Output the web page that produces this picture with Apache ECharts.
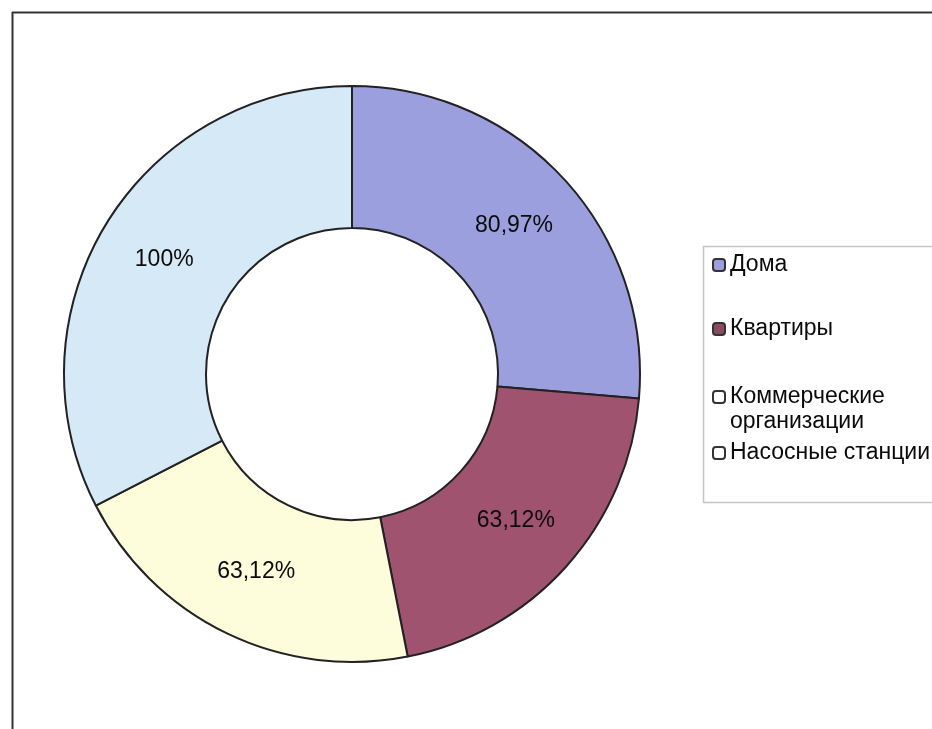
<!DOCTYPE html>
<html>
<head>
<meta charset="utf-8">
<script src="https://cdn.jsdelivr.net/npm/echarts@6/dist/echarts.min.js"></script>
<style>
  html, body { margin: 0; padding: 0; background: #ffffff; }
  #chart { width: 932px; height: 729px; }
</style>
</head>
<body>
<div id="chart"></div>
<script>
// Consumer groups and their shares
const categories = ['Дома', 'Квартиры', 'Коммерческие организации', 'Насосные станции'];
const values = [80.97, 63.12, 63.12, 100];
const colors = ['#9c9fdd', '#a0536f', '#fdfddc', '#d5e9f7'];
const legendIconColors = ['#9c9fdd', '#8a4a62', '#ffffff', '#ffffff'];
// Legend text (two-line label for the long name; leading blank line keeps the icon on the first line)
const legendText = ['Дома', 'Квартиры', '\nКоммерческие\nорганизации', 'Насосные станции'];
const legendCenters = [265, 329, 397, 453];

const LINE_H = 25;
const FONT = '"Liberation Sans", Arial, sans-serif';

const pieData = categories.map((name, i) => ({
  name: name,
  value: values[i],
  itemStyle: { color: colors[i] }
}));

const legends = categories.map((name, i) => {
  const lines = legendText[i].split('\n').length;
  return {
    data: [{ name: name, itemStyle: { color: legendIconColors[i], borderColor: '#333', borderWidth: 2 } }],
    left: 712,
    top: legendCenters[i] - (lines * LINE_H) / 2,
    padding: 0,
    icon: 'roundRect',
    itemWidth: 12,
    itemHeight: 12,
    selectedMode: false,
    formatter: () => legendText[i],
    textStyle: { fontFamily: FONT, fontSize: 23, color: '#0a0a0a', lineHeight: LINE_H }
  };
});

const chart = echarts.init(document.getElementById('chart'), null, { renderer: 'canvas' });
chart.setOption({
  animation: false,
  backgroundColor: '#ffffff',
  legend: legends,
  graphic: [
    // chart frame (top and left edges)
    { type: 'line', shape: { x1: 12, y1: 12.5, x2: 932, y2: 12.5 }, style: { stroke: '#333', lineWidth: 2 } },
    { type: 'line', shape: { x1: 12.5, y1: 12, x2: 12.5, y2: 729 }, style: { stroke: '#333', lineWidth: 2 } },
    // legend box
    { type: 'rect', shape: { x: 703.5, y: 246.5, width: 260, height: 256 }, style: { fill: 'none', stroke: '#c4c4c4', lineWidth: 1.5 }, z: -1 }
  ],
  series: [{
    type: 'pie',
    center: [352, 374],
    radius: [146, 288],
    startAngle: 90,
    clockwise: true,
    avoidLabelOverlap: false,
    silent: true,
    itemStyle: { borderColor: '#222', borderWidth: 2 },
    label: {
      show: true,
      position: 'inside',
      fontFamily: FONT,
      fontSize: 23,
      color: '#0a0a0a',
      formatter: p => String(p.value).replace('.', ',') + '%'
    },
    labelLine: { show: false },
    emphasis: { disabled: true },
    data: pieData
  }]
});
</script>
</body>
</html>
